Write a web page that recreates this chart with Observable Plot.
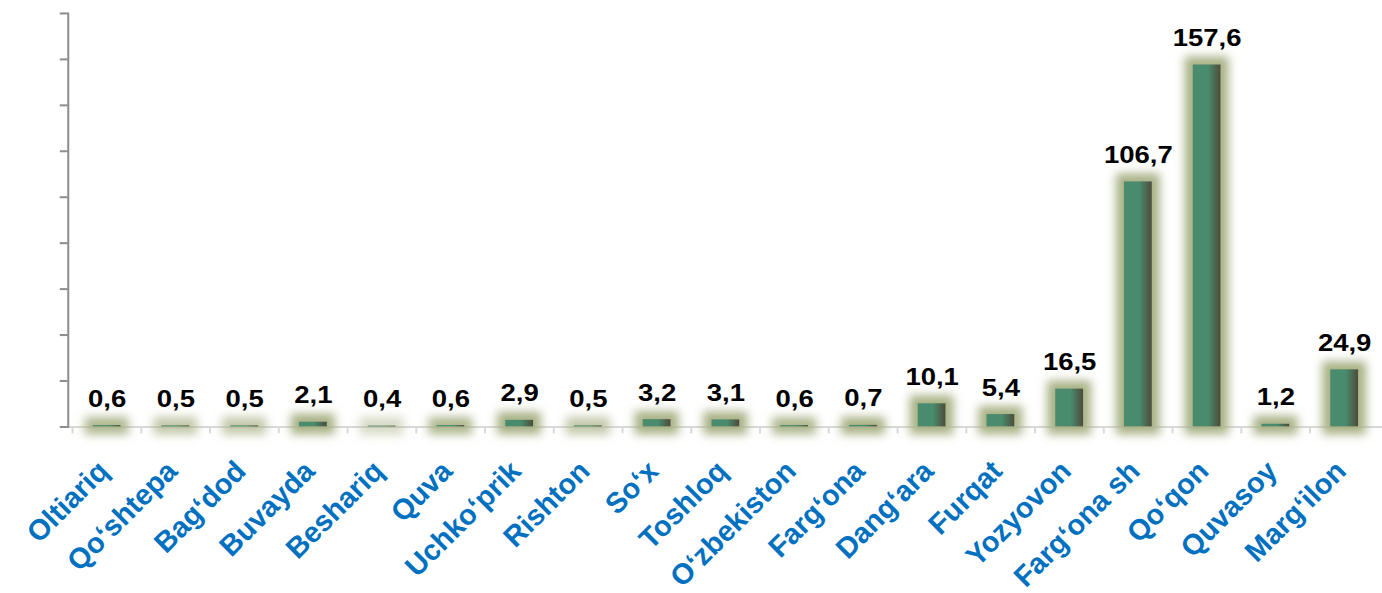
<!DOCTYPE html>
<html>
<head>
<meta charset="utf-8">
<script src="https://cdn.jsdelivr.net/npm/d3@7"></script>
<script src="https://cdn.jsdelivr.net/npm/@observablehq/plot@0.6"></script>
<style>
  html, body { margin: 0; padding: 0; background: #fff; overflow: hidden; width: 1382px; height: 593px; }
  #chart svg { display: block; font-family: "Liberation Sans", Arial, sans-serif; }
</style>
</head>
<body>
<div id="chart"></div>
<script>
const names = ["Oltiariq", "Qo‘shtepa", "Bag‘dod", "Buvayda", "Beshariq", "Quva", "Uchko‘prik", "Rishton", "So‘x", "Toshloq", "O‘zbekiston", "Farg‘ona", "Dang‘ara", "Furqat", "Yozyovon", "Farg‘ona sh", "Qo‘qon", "Quvasoy", "Marg‘ilon"];
const values = [0.6, 0.5, 0.5, 2.1, 0.4, 0.6, 2.9, 0.5, 3.2, 3.1, 0.6, 0.7, 10.1, 5.4, 16.5, 106.7, 157.6, 1.2, 24.9];
const yTicks = [0, 20, 40, 60, 80, 100, 120, 140, 160, 180];

const data = names.map((name, i) => ({name, value: values[i]}));
const fmt = v => v.toFixed(1).replace(".", ",");

const W = 1387, H = 593, ML = 68, MR = 0;
const step = (W - ML - MR) / names.length;

const defs = () => {
  const d = d3.create("svg:defs");
  d.html(`
    <linearGradient id="barGrad" x1="0" x2="1" y1="0" y2="0">
      <stop offset="0" stop-color="#488b6d"/>
      <stop offset="0.55" stop-color="#488b6d"/>
      <stop offset="1" stop-color="#4f4b3b"/>
    </linearGradient>
    <filter id="glow" filterUnits="userSpaceOnUse" x="0" y="0" width="${W}" height="${H}">
      <feMorphology in="SourceAlpha" operator="dilate" radius="8" result="d"/>
      <feGaussianBlur in="d" stdDeviation="5" result="b"/>
      <feFlood flood-color="#a9b286" result="c"/>
      <feComposite in="c" in2="b" operator="in" result="g"/>
      <feMerge><feMergeNode in="g"/><feMergeNode in="SourceGraphic"/></feMerge>
    </filter>`);
  return d.node();
};

const chart = Plot.plot({
  width: W,
  height: H,
  marginLeft: ML,
  marginRight: MR,
  marginTop: 13,
  marginBottom: 165,
  style: {fontFamily: "Liberation Sans, Arial, sans-serif", fontWeight: "bold", background: "#fff"},
  x: {domain: names, paddingInner: 0.6, paddingOuter: 0.3, axis: null},
  y: {domain: [0, 180], axis: null},
  marks: [
    defs,
    Plot.ruleY([0], {stroke: "#d9d9d9", strokeWidth: 2}),
    Plot.axisX({ticks: names, tickSize: 7, tickFormat: () => "", label: null, stroke: "#d9d9d9", strokeWidth: 2, dx: -step / 2, strokeOpacity: 1}),
    Plot.axisY({ticks: yTicks, tickSize: 8, tickFormat: () => "", label: null, stroke: "#8c8c8c", strokeWidth: 2, strokeOpacity: 1}),
    Plot.frame({anchor: "left", stroke: "#8c8c8c", strokeWidth: 2}),
    Plot.barY(data, {x: "name", y: "value", fill: "url(#barGrad)"}),
    Plot.text(data, {x: "name", y: "value", text: d => fmt(d.value), dy: -19, lineAnchor: "bottom", fontSize: 24, fontWeight: "bold", fill: "#000", className: "vlabels"}),
    Plot.text(data, {x: "name", y: () => 0, text: "name", rotate: -45, textAnchor: "end", lineAnchor: "bottom", dx: 3, dy: 46, fontSize: 29, fontWeight: "bold", fill: "#0070c0", className: "clabels"})
  ]
});

d3.select(chart).select('g[aria-label="bar"]').attr("filter", "url(#glow)");
d3.select(chart).selectAll("g.vlabels text").attr("transform", function() {
  return (this.getAttribute("transform") || "") + " scale(1.15,1)";
});
document.getElementById("chart").appendChild(chart);
</script>
</body>
</html>
